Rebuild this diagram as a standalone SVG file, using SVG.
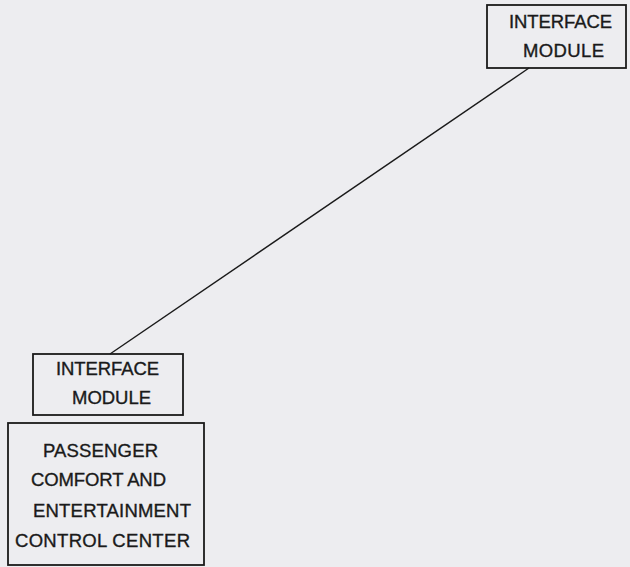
<svg xmlns="http://www.w3.org/2000/svg" width="630" height="567" viewBox="0 0 630 567">
<style>
.box{fill:none;stroke:#1a1a1a;stroke-width:1.8}
.t{font-family:"Liberation Sans",Arial,sans-serif;font-size:18.5px;fill:#1a1a1a;stroke:#1a1a1a;stroke-width:0.35}
.c{stroke:#1a1a1a;stroke-width:1.4;fill:none}
</style>
<rect width="630" height="567" fill="#ededf0"/>
<g id="connectors">
<line class="c" x1="529" y1="68" x2="110" y2="354"/>
</g>
<g id="interface-top">
<rect class="box" x="487" y="5" width="139" height="63"/>
<text class="t" x="509" y="28" textLength="103" lengthAdjust="spacing">INTERFACE</text>
<text class="t" x="523" y="57" textLength="81" lengthAdjust="spacing">MODULE</text>
</g>
<g id="interface-bottom">
<rect class="box" x="33" y="354" width="150" height="61"/>
<text class="t" x="56" y="375" textLength="103" lengthAdjust="spacing">INTERFACE</text>
<text class="t" x="72" y="404" textLength="79" lengthAdjust="spacing">MODULE</text>
</g>
<g id="passenger-center">
<rect class="box" x="8" y="423" width="196" height="142"/>
<text class="t" x="43" y="457" textLength="115" lengthAdjust="spacing">PASSENGER</text>
<text class="t" x="31" y="486" textLength="135" lengthAdjust="spacing">COMFORT AND</text>
<text class="t" x="33" y="517" textLength="158" lengthAdjust="spacing">ENTERTAINMENT</text>
<text class="t" x="15" y="547" textLength="175" lengthAdjust="spacing">CONTROL CENTER</text>
</g>
</svg>
